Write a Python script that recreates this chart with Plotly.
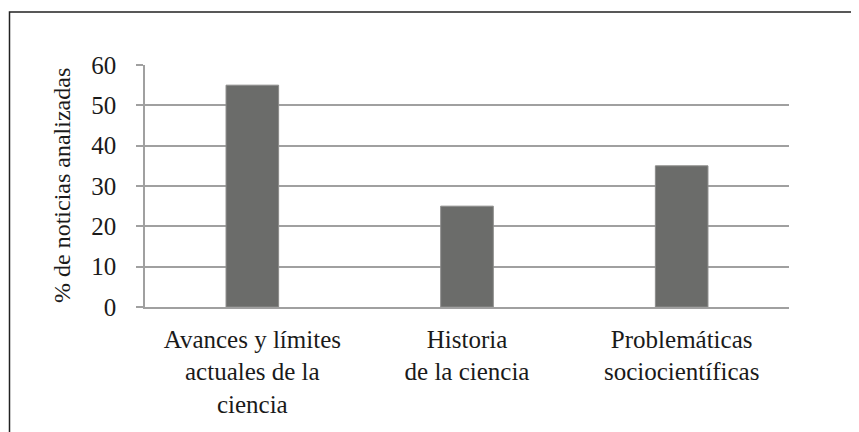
import plotly.graph_objects as go

categories = ["Avances y límites<br>actuales de la<br>ciencia",
              "Historia<br>de la ciencia",
              "Problemáticas<br>sociocientíficas"]
values = [55, 25, 35]
y_ticks = [0, 10, 20, 30, 40, 50, 60]
y_title = "% de noticias analizadas"

FONT = "Liberation Serif"
OFF = 8  # page body margin
W, H = 859 - OFF, 432 - OFF
# plot area in screen pixels: x 145..789, y 65..307
L, T = 145 - OFF, 65 - OFF
R = W - (789 - OFF)
B = H - (307 - OFF)
pw = W - L - R
ph = H - T - B

def px_x(x):  # screen px -> paper
    return (x - OFF - L) / pw

def px_y(y):
    return (H - B - (y - OFF)) / ph

fig = go.Figure(go.Bar(
    x=categories, y=values,
    width=0.245,
    marker=dict(color="#6b6c6a", line=dict(color="#8c8c8a", width=1)),
))

fig.update_layout(
    width=W, height=H,
    margin=dict(l=L, r=R, t=T, b=B, pad=0),
    paper_bgcolor="white", plot_bgcolor="white",
    showlegend=False,
    font=dict(family=FONT, size=25, color="#1a1a1a"),
)
fig.update_xaxes(
    showgrid=False, showline=True, linecolor="#a0a0a0", linewidth=1.5,
    ticks="", tickfont=dict(family=FONT, size=25, color="#1a1a1a"),
    ticklabelstandoff=9,
)
fig.update_yaxes(
    range=[0, 60], tickvals=y_ticks,
    showgrid=True, gridcolor="#a0a0a0", gridwidth=1.5,
    showline=True, linecolor="#a0a0a0", linewidth=1.5,
    ticks="outside", ticklen=7, tickcolor="#a0a0a0", tickwidth=1.5,
    tickfont=dict(family=FONT, size=25, color="#1a1a1a"),
    ticklabelstandoff=15, zeroline=False,
)
fig.add_annotation(
    text=y_title, textangle=-90, showarrow=False,
    xref="paper", yref="paper", x=px_x(62), y=0.5,
    xanchor="center", yanchor="middle",
    font=dict(family=FONT, size=24, color="#1a1a1a"),
)
# outer frame
fig.add_shape(type="rect", xref="paper", yref="paper",
              x0=px_x(9.5), y0=px_y(445), x1=px_x(875), y1=px_y(12),
              line=dict(color="#222222", width=1.5), fillcolor="rgba(0,0,0,0)",
              layer="above")

fig.write_html("out.html")
